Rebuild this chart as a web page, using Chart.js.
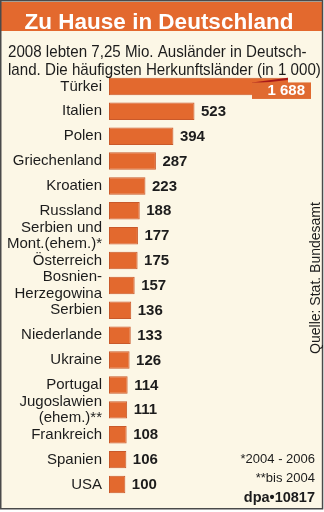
<!DOCTYPE html>
<html>
<head>
<meta charset="utf-8">
<script src="https://cdn.jsdelivr.net/npm/chart.js@4.4.1/dist/chart.umd.min.js"></script>
<style>
  html, body { margin: 0; padding: 0; background: #ffffff; }
  #wrap { width: 324px; height: 512px; position: relative; }
  canvas { display: block; }
</style>
</head>
<body>
<div id="wrap"><canvas id="chart" width="324" height="512"></canvas></div>
<script>
// Ausländer in Deutschland 2008, nach Herkunftsland (in 1 000)
const countries = [
  "Türkei", "Italien", "Polen", "Griechenland", "Kroatien", "Russland",
  ["Serbien und", "Mont.(ehem.)*"], "Österreich", ["Bosnien-", "Herzegowina"],
  "Serbien", "Niederlande", "Ukraine", "Portugal", ["Jugoslawien", "(ehem.)**"],
  "Frankreich", "Spanien", "USA"
];
const residents = [1688, 523, 394, 287, 223, 188, 177, 175, 157, 136, 133, 126, 114, 111, 108, 106, 100];

const titleText = "Zu Hause in Deutschland";
const subtitleLines = [
  "2008 lebten 7,25 Mio. Ausländer in Deutsch-",
  "land. Die häufigsten Herkunftsländer (in 1 000)"
];
const sourceText = "Quelle: Stat. Bundesamt";
const footnotes = ["*2004 - 2006", "**bis 2004"];
const creditText = "dpa\u202210817";

const FONT = "'Liberation Sans', Arial, Helvetica, sans-serif";
const ORANGE = "#e3692e";
const INK = "#1c1c1c";

// German number style: thousands separated by a space
function fmt(v) {
  return String(v).replace(/\B(?=(\d{3})+(?!\d))/g, " ");
}

// Background, header band and frame
const framePlugin = {
  id: "frame",
  beforeDraw(chart) {
    const ctx = chart.ctx;
    ctx.save();
    ctx.fillStyle = "#ffffff";
    ctx.fillRect(0, 0, chart.width, chart.height);
    ctx.fillStyle = "#fcf7e6";
    ctx.fillRect(0, 0, 323, 509);
    ctx.fillStyle = ORANGE;
    ctx.fillRect(1, 2, 321, 29);
    ctx.strokeStyle = "#4a4a4a";
    ctx.lineWidth = 1.5;
    ctx.strokeRect(0.75, 0.75, 321.8, 508);
    ctx.restore();
  },
  afterDraw(chart) {
    const ctx = chart.ctx;
    ctx.save();
    // Title
    ctx.fillStyle = "#ffffff";
    ctx.font = "bold 22.5px " + FONT;
    ctx.textAlign = "center";
    ctx.textBaseline = "alphabetic";
    ctx.fillText(titleText, 159, 28.5);
    // Subtitle, set slightly condensed
    ctx.fillStyle = INK;
    ctx.font = "17px " + FONT;
    ctx.textAlign = "left";
    subtitleLines.forEach((line, i) => {
      ctx.save();
      ctx.translate(8, 57 + i * 17.5);
      ctx.scale(0.89, 1);
      ctx.fillText(line, 0, 0);
      ctx.restore();
    });
    // Source, vertical
    ctx.save();
    ctx.translate(320, 278);
    ctx.rotate(-Math.PI / 2);
    ctx.font = "14px " + FONT;
    ctx.textAlign = "center";
    ctx.fillText(sourceText, 0, 0);
    ctx.restore();
    // Footnotes and credit
    ctx.textAlign = "right";
    ctx.font = "13px " + FONT;
    ctx.fillText(footnotes[0], 315, 463);
    ctx.fillText(footnotes[1], 315, 482);
    ctx.font = "bold 14.5px " + FONT;
    ctx.fillText(creditText, 315, 502);
    ctx.restore();
  }
};

// Value labels; a bar longer than the axis is cut and gets a boxed label
const valuePlugin = {
  id: "values",
  afterDatasetsDraw(chart) {
    const ctx = chart.ctx;
    const area = chart.chartArea;
    const xScale = chart.scales.x;
    const meta = chart.getDatasetMeta(0);
    ctx.save();
    meta.data.forEach((bar, i) => {
      const v = residents[i];
      if (v > xScale.max) {
        const left = area.right - 36, right = area.right + 23;
        const top = bar.y - 5.5, h = 18;
        const barTop = bar.y - bar.height / 2;
        ctx.fillStyle = "#a81a1a";
        ctx.beginPath();
        ctx.moveTo(left, top + 1.5);
        ctx.lineTo(area.right, barTop);
        ctx.lineTo(area.right, barTop + 2.2);
        ctx.lineTo(left, top + 3);
        ctx.closePath();
        ctx.fill();
        ctx.fillStyle = "#e06a30";
        ctx.fillRect(left, top + 1.5, right - left, h - 1.5);
        ctx.fillStyle = "#ffffff";
        ctx.font = "bold 15px " + FONT;
        ctx.textAlign = "right";
        ctx.textBaseline = "middle";
        ctx.fillText(fmt(v), right - 6, top + 1.5 + (h - 1.5) / 2 + 0.5);
      } else {
        ctx.fillStyle = INK;
        ctx.font = "bold 15px " + FONT;
        ctx.textAlign = "left";
        ctx.textBaseline = "middle";
        ctx.fillText(fmt(v), bar.x + 6.5, bar.y + 0.5);
      }
    });
    ctx.restore();
  }
};

new Chart(document.getElementById("chart"), {
  type: "bar",
  data: {
    labels: countries,
    datasets: [{
      data: residents,
      backgroundColor: ORANGE,
      borderColor: "#c9592a",
      borderWidth: 1,
      borderSkipped: false,
      barPercentage: 0.7,
      categoryPercentage: 1.0
    }]
  },
  options: {
    indexAxis: "y",
    responsive: false,
    devicePixelRatio: 1,
    animation: false,
    layout: { padding: { top: 74, bottom: 2, left: 0, right: 36 } },
    plugins: {
      legend: { display: false },
      tooltip: { enabled: false }
    },
    scales: {
      x: { display: false, min: 0, max: 1095 },
      y: {
        grid: { display: false, drawTicks: false },
        border: { display: false },
        ticks: {
          autoSkip: false,
          padding: 7,
          color: INK,
          font: { family: FONT, size: 15, lineHeight: 1.08 }
        },
        afterFit(scale) { scale.width = 109; }
      }
    }
  },
  plugins: [framePlugin, valuePlugin]
});
</script>
</body>
</html>
